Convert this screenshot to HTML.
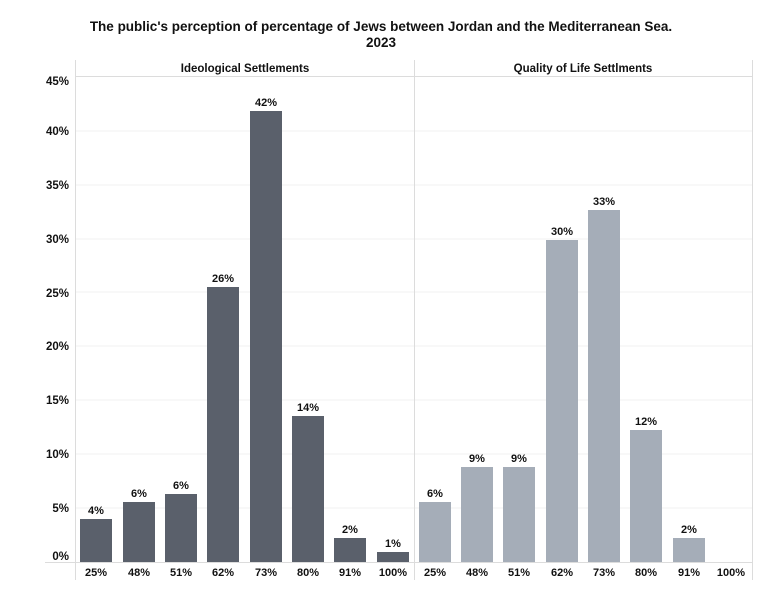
<!DOCTYPE html>
<html><head><style>body{margin:0;background:#fff}svg{display:block}text{font-family:"Liberation Sans",Arial,sans-serif;font-weight:bold;fill:#111}</style></head>
<body>
<svg width="762" height="594" xmlns="http://www.w3.org/2000/svg">
<text x="381" y="31" font-size="13.5" text-anchor="middle">The public's perception of percentage of Jews between Jordan and the Mediterranean Sea.</text>
<text x="381" y="47" font-size="13.5" text-anchor="middle">2023</text>
<g stroke="#f0f0f0" stroke-width="1">
<line x1="75" x2="752" y1="508" y2="508"/><line x1="75" x2="752" y1="454" y2="454"/><line x1="75" x2="752" y1="400" y2="400"/><line x1="75" x2="752" y1="346" y2="346"/><line x1="75" x2="752" y1="292" y2="292"/><line x1="75" x2="752" y1="239" y2="239"/><line x1="75" x2="752" y1="185" y2="185"/><line x1="75" x2="752" y1="131" y2="131"/>
</g>
<g stroke="#dcdcdc" stroke-width="1">
<line x1="75.5" x2="75.5" y1="60" y2="580"/><line x1="414.5" x2="414.5" y1="60" y2="580"/><line x1="752.5" x2="752.5" y1="60" y2="580"/>
<line x1="75" x2="752" y1="76.5" y2="76.5"/><line x1="45" x2="752" y1="562.5" y2="562.5"/>
</g>
<g font-size="11.5" text-anchor="end">
<text x="69" y="85">45%</text><text x="69" y="135">40%</text><text x="69" y="189">35%</text><text x="69" y="243">30%</text><text x="69" y="297">25%</text><text x="69" y="350">20%</text><text x="69" y="404">15%</text><text x="69" y="458">10%</text><text x="69" y="512">5%</text><text x="69" y="560">0%</text>
</g>
<text x="245" y="72" font-size="11.5" text-anchor="middle">Ideological Settlements</text>
<text x="583" y="72" font-size="11.5" text-anchor="middle">Quality of Life Settlments</text>
<g fill="#5a606b">
<rect x="80" y="519" width="32" height="43"/><rect x="123" y="502" width="32" height="60"/><rect x="165" y="494" width="32" height="68"/><rect x="207" y="287" width="32" height="275"/><rect x="250" y="111" width="32" height="451"/><rect x="292" y="416" width="32" height="146"/><rect x="334" y="538" width="32" height="24"/><rect x="377" y="552" width="32" height="10"/>
</g>
<g fill="#a5adb8">
<rect x="419" y="502" width="32" height="60"/><rect x="461" y="467" width="32" height="95"/><rect x="503" y="467" width="32" height="95"/><rect x="546" y="240" width="32" height="322"/><rect x="588" y="210" width="32" height="352"/><rect x="630" y="430" width="32" height="132"/><rect x="673" y="538" width="32" height="24"/>
</g>
<g font-size="11" text-anchor="middle">
<text x="96" y="514">4%</text><text x="139" y="497">6%</text><text x="181" y="489">6%</text><text x="223" y="282">26%</text><text x="266" y="106">42%</text><text x="308" y="411">14%</text><text x="350" y="533">2%</text><text x="393" y="547">1%</text>
<text x="435" y="497">6%</text><text x="477" y="462">9%</text><text x="519" y="462">9%</text><text x="562" y="235">30%</text><text x="604" y="205">33%</text><text x="646" y="425">12%</text><text x="689" y="533">2%</text>
</g>
<g font-size="11" text-anchor="middle">
<text x="96" y="576">25%</text><text x="139" y="576">48%</text><text x="181" y="576">51%</text><text x="223" y="576">62%</text><text x="266" y="576">73%</text><text x="308" y="576">80%</text><text x="350" y="576">91%</text><text x="393" y="576">100%</text>
<text x="435" y="576">25%</text><text x="477" y="576">48%</text><text x="519" y="576">51%</text><text x="562" y="576">62%</text><text x="604" y="576">73%</text><text x="646" y="576">80%</text><text x="689" y="576">91%</text><text x="731" y="576">100%</text>
</g>
</svg>
</body></html>
